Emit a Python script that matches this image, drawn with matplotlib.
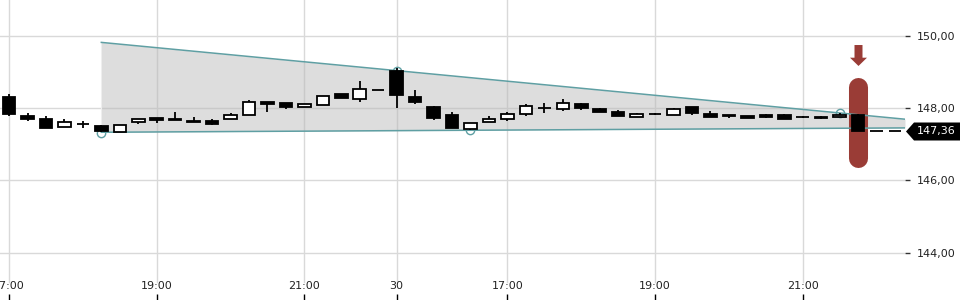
import numpy as np
import matplotlib
matplotlib.use('Agg')
import matplotlib.pyplot as plt
from matplotlib.path import Path

# ---------------- DATA (15 min candles) ----------------
opens = [148.30, 147.78, 147.70, 147.48, 147.57, 147.50, 147.33, 147.61, 147.72, 147.70,
         147.64, 147.64, 147.69, 147.80, 148.17, 148.14, 148.04, 148.07, 148.39, 148.24,
         148.50, 149.02, 148.30, 148.03, 147.81, 147.41, 147.61, 147.69, 147.83, 148.00,
         147.96, 148.10, 147.96, 147.88, 147.74, 147.83, 147.81, 148.03, 147.83, 147.80,
         147.78, 147.81, 147.81, 147.75, 147.74, 147.74, 147.81, 147.36, 147.36]
highs = [148.38, 147.85, 147.78, 147.69, 147.63, 147.52, 147.52, 147.70, 147.72, 147.90,
         147.75, 147.69, 147.87, 148.21, 148.17, 148.15, 148.10, 148.32, 148.39, 148.75,
         148.50, 149.10, 148.50, 148.06, 147.89, 147.58, 147.78, 147.90, 148.10, 148.13,
         148.25, 148.13, 148.00, 147.94, 147.87, 147.86, 148.01, 148.03, 147.93, 147.80,
         147.78, 147.84, 147.84, 147.78, 147.79, 147.86, 147.83, 147.36, 147.36]
lows = [147.79, 147.65, 147.44, 147.48, 147.46, 147.35, 147.33, 147.56, 147.59, 147.66,
        147.62, 147.53, 147.69, 147.80, 147.90, 147.97, 148.04, 148.07, 148.27, 148.17,
        148.49, 148.01, 148.10, 147.68, 147.46, 147.38, 147.61, 147.64, 147.79, 147.85,
        147.91, 147.94, 147.88, 147.79, 147.74, 147.80, 147.81, 147.81, 147.76, 147.72,
        147.73, 147.73, 147.69, 147.72, 147.69, 147.74, 147.36, 147.36, 147.36]
closes = [147.83, 147.69, 147.44, 147.61, 147.55, 147.37, 147.52, 147.70, 147.66, 147.66,
          147.62, 147.57, 147.80, 148.16, 148.12, 148.04, 148.10, 148.32, 148.27, 148.52,
          148.49, 148.37, 148.16, 147.73, 147.46, 147.58, 147.69, 147.83, 148.06, 147.99,
          148.13, 147.99, 147.88, 147.79, 147.83, 147.82, 147.96, 147.85, 147.76, 147.79,
          147.73, 147.76, 147.69, 147.74, 147.73, 147.80, 147.36, 147.36, 147.36]

tick_pos = [0, 8, 16, 21, 27, 35, 43]
tick_labels = ['17:00', '19:00', '21:00', '30', '17:00', '19:00', '21:00']
y_ticks = [144, 146, 148, 150]

# wedge pattern
wedge_x = [5, 48.54]
wedge_upper = [149.81, 147.69]
wedge_lower = [147.33, 147.45]
touch_x = [5, 21, 25, 45]
touch_y = [147.32, 149.03, 147.38, 147.86]

# signal
signal_idx = 46
signal_top = 148.57
signal_bottom = 146.62
arrow_y = 149.45
last_price = 147.36

# ---------------- PLOT ----------------
teal = '#5f9fa3'
red = '#9a3c36'

fig = plt.figure(figsize=(9.6, 3.0), dpi=100)
ax = fig.add_axes([0, 0, 905 / 960, 1])
ax.set_xlim(-0.49, 48.54)
ax.set_ylim(142.70, 150.98)

for s in ax.spines.values():
    s.set_visible(False)

# grid
for y in y_ticks:
    ax.axhline(y, color='#d9d9d9', lw=1, zorder=0)
for x in tick_pos:
    ax.axvline(x, ymin=0.06, ymax=1, color='#d9d9d9', lw=1, zorder=0)

# wedge
ax.fill_between(wedge_x, wedge_lower, wedge_upper, color='#b8b8b8', alpha=0.48,
                lw=0, zorder=1)
ax.plot(wedge_x, wedge_upper, color=teal, lw=1.1, zorder=3)
ax.plot(wedge_x, wedge_lower, color=teal, lw=1.1, zorder=3)
ax.plot([wedge_x[0], wedge_x[0]], [wedge_lower[0], wedge_upper[0]], color='#eeeeee',
        lw=0.8, zorder=1)
ax.plot(touch_x, touch_y, 'o', ms=6, mfc='none', mec=teal, mew=1, zorder=2)

# signal pill + arrow
ax.plot([signal_idx, signal_idx], [signal_top, signal_bottom], color=red, lw=13.7,
        solid_capstyle='round', zorder=2)
arrow = Path([(-4, 10.5), (4, 10.5), (4, -2.2), (8.5, -2.2), (0, -10.5),
              (-8.5, -2.2), (-4, -2.2), (-4, 10.5)])
ax.plot([signal_idx], [arrow_y], marker=arrow, ms=15.1, color=red, mec='none', zorder=2)

# candles
x = np.arange(len(opens))
o = np.array(opens)
c = np.array(closes)
up = c >= o
ax.vlines(x, lows, highs, color='black', lw=1.3, zorder=4)
ax.bar(x[up], (c - o)[up], bottom=o[up], width=0.68, color='white',
       edgecolor='black', lw=1.3, zorder=5)
ax.bar(x[~up], (c - o)[~up], bottom=o[~up], width=0.68, color='black',
       edgecolor='black', lw=1.3, zorder=5)

# axes ticks
ax.set_xticks(tick_pos)
ax.set_xticklabels(tick_labels)
ax.tick_params(axis='x', direction='in', length=4.3, width=1, color='black',
               pad=-13.7, labelsize=8, labelcolor='#222222')
ax.yaxis.tick_right()
ax.set_yticks(y_ticks)
ax.set_yticklabels([f'{v:.2f}'.replace('.', ',') for v in y_ticks])
ax.tick_params(axis='y', direction='out', length=3.6, width=1, color='#333333',
               pad=5, labelsize=8, labelcolor='#222222')

# last price tag
tag = Path([(-27.5, 0), (-19.5, 9), (27.5, 9), (27.5, -9), (-19.5, -9), (-27.5, 0)])
ax.plot([932.5 / 905], [last_price], marker=tag, ms=39.6, color='black', mec='none',
        transform=ax.get_yaxis_transform(), clip_on=False, zorder=6)
ax.text(917 / 905, last_price, f'{last_price:.2f}'.replace('.', ','), color='white',
        fontsize=8, ha='left', va='center', transform=ax.get_yaxis_transform(),
        clip_on=False, zorder=7)

fig.savefig('out.png', dpi=100)
